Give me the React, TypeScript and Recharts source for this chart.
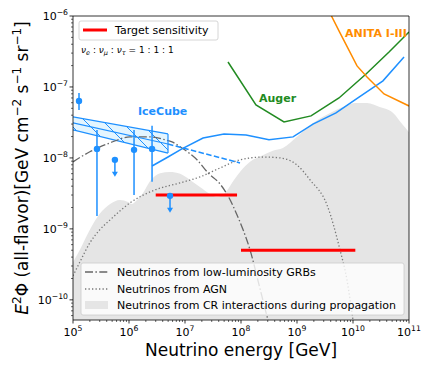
import React from 'react';
import { ComposedChart, Line, Area, Scatter, ErrorBar, XAxis, YAxis, ReferenceLine } from 'recharts';

const BLUE = '#1e90ff';
const GREEN = '#228b22';
const ORANGE = '#ff8c00';
const RED = '#ff0000';
const FONT = '"DejaVu Sans", sans-serif';

const X_MAJOR = [1e5, 1e6, 1e7, 1e8, 1e9, 1e10, 1e11];
const Y_MAJOR = [1e-10, 1e-9, 1e-8, 1e-7, 1e-6];
const X_DOMAIN = [1e5, 1e11];
const Y_DOMAIN = [5.2e-11, 1e-6];

// [energy GeV, E^2 flux]
const crPropagation: [number, number][] = [
  [1e5, 3.4e-10], [1.33e5, 5.1e-10], [2.0e5, 9.7e-10], [3.0e5, 1.63e-9], [4.6e5, 2.25e-9],
  [6.9e5, 2.56e-9], [9.6e5, 2.4e-9], [1.13e6, 2.25e-9], [1.39e6, 2.56e-9], [1.78e6, 3.2e-9],
  [2.37e6, 4.7e-9], [3.6e6, 6.1e-9], [5.4e6, 6.35e-9], [8.2e6, 5.96e-9], [1.23e7, 4.9e-9],
  [1.85e7, 3.9e-9], [2.8e7, 3.1e-9], [3.7e7, 2.82e-9], [5.2e7, 3.2e-9], [6.9e7, 4.45e-9],
  [9.6e7, 6.35e-9], [1.45e8, 8.8e-9], [2.5e8, 1.1e-8], [3.7e8, 1.26e-8], [5.6e8, 1.38e-8],
  [1e9, 1.98e-8], [1.93e9, 3.1e-8], [3.9e9, 4.3e-8], [6.6e9, 5.2e-8], [1.09e10, 5.96e-8],
  [1.78e10, 5.96e-8], [3.0e10, 5.2e-8], [5.2e10, 4.3e-8], [7.8e10, 2.9e-8], [1e11, 2.3e-8],
];

const agn: [number, number][] = [
  [1e5, 2.18e-10], [1.33e5, 3.43e-10], [2.0e5, 6.35e-10], [3.0e5, 9.7e-10], [4.6e5, 1.34e-9],
  [1.04e6, 2.32e-9], [2.9e6, 3.54e-9], [8.2e6, 4.45e-9], [1.85e7, 5.4e-9], [4.2e7, 7.2e-9],
  [9.6e7, 9.4e-9], [2.5e8, 1.03e-8], [5.0e8, 1.0e-8], [1e9, 7.96e-9], [1.71e9, 4.9e-9],
  [3.43e9, 2.18e-9], [5.86e9, 5.06e-10], [7.8e9, 1.91e-10], [1e10, 5.2e-11], [1.13e10, 2.7e-11],
];

const llGrb: [number, number][] = [
  [1e5, 8.8e-9], [2.0e5, 1.22e-8], [4.6e5, 1.63e-8], [1.04e6, 1.98e-8], [2.37e6, 1.98e-8],
  [4.4e6, 1.8e-8], [5.86e6, 1.68e-8], [8.8e6, 1.38e-8], [1.64e7, 9.4e-9], [2.58e7, 6.15e-9],
  [4.22e7, 4.3e-9], [5.86e7, 2.92e-9], [8.5e7, 1.57e-9], [1.09e8, 9.7e-10], [1.45e8, 5.06e-10],
  [2.1e8, 1.63e-10], [3.03e8, 5.2e-11], [3.58e8, 3.2e-11],
];

const iceCubeSens: [number, number][] = [
  [2.58e6, 7.7e-9], [4.97e6, 1.03e-8], [8.8e6, 1.34e-8], [2.1e7, 1.91e-8], [4.97e7, 2.18e-8],
  [1.23e8, 2.11e-8], [3.16e8, 1.8e-8], [8.5e8, 1.98e-8], [1.93e9, 3.0e-8], [4.97e9, 4.3e-8],
  [1.28e10, 7.2e-8], [3.43e10, 1.22e-7], [8.15e10, 2.65e-7],
];

const iceCubeFit: [number, number][] = [[1e5, 3.11e-8], [4.97e6, 1.57e-8]];
const iceCubeFitExtra: [number, number][] = [[4.97e6, 1.57e-8], [9.6e7, 8.5e-9]];
// [energy, lower, upper]
const iceCubeBand: [number, number, number][] = [[1e5, 2.48e-8, 3.78e-8], [4.97e6, 1.17e-8, 2.18e-8]];
const iceCubeBandEdge: [number, number][] = [[4.97e6, 1.17e-8], [4.97e6, 2.18e-8]];

// [energy, flux, low, high]
const iceCubePoints: [number, number, number, number][] = [
  [1.28e5, 6.35e-8, 4.74e-8, 8.2e-8],
  [2.68e5, 1.34e-8, 1.52e-9, 2.48e-8],
  [1.23e6, 1.3e-8, 3.0e-9, 2.48e-8],
  [2.58e6, 1.34e-8, 4.6e-9, 2.83e-8],
];
const iceCubeLimits: [number, number][] = [[5.6e5, 9.4e-9], [5.4e6, 2.92e-9]];

const target1: [number, number][] = [[3e6, 3e-9], [8.5e7, 3e-9]];
const target2: [number, number][] = [[1e8, 5e-10], [1.1e10, 5e-10]];

const auger: [number, number][] = [
  [5.86e7, 2.25e-7], [1.85e8, 5.57e-8], [5.86e8, 3.21e-8], [1.78e9, 3.91e-8], [5.62e9, 7.0e-8],
  [1.71e10, 1.52e-7], [4.4e10, 3.11e-7], [1e11, 5.96e-7],
];
const anita: [number, number][] = [
  [3.58e9, 1.3e-6], [4.05e9, 1.03e-6], [5.86e9, 5.77e-7], [1.18e10, 1.98e-7], [1.78e10, 1.38e-7],
  [3.58e10, 7.96e-8], [1e11, 5.4e-8],
];

const pts = (a: [number, number][]) => a.map(([e, f]) => ({ e, f }));

const minorTicks = (lo: number, hi: number) => {
  const out: number[] = [];
  for (let p = lo; p <= hi; p++) for (let m = 1; m <= 9; m++) out.push(m * Math.pow(10, p));
  return out;
};
const xTicks = minorTicks(5, 10).concat([1e11]);
const yTicks = minorTicks(-11, -7).concat([1e-6]).filter((v) => v >= Y_DOMAIN[0]);

const isMajor = (v: number) => Math.abs(Math.log10(v) - Math.round(Math.log10(v))) < 1e-6;
const expOf = (v: number) => String(Math.round(Math.log10(v))).replace('-', '\u2212');

const XTick = (props: any) => {
  const { x, y, payload } = props;
  const major = isMajor(payload.value);
  return (
    <g>
      <line x1={x} x2={x} y1={y} y2={y + (major ? 3.5 : 2)} stroke="#000" strokeWidth={major ? 0.8 : 0.6} />
      {major && (
        <text x={x} y={y + 16} textAnchor="middle" fontSize={11} fontFamily={FONT} fill="#000">
          10<tspan dy={-5} fontSize={7.7}>{expOf(payload.value)}</tspan>
        </text>
      )}
    </g>
  );
};

const YTick = (props: any) => {
  const { x, y, payload } = props;
  const major = isMajor(payload.value);
  return (
    <g>
      <line x1={x} x2={x - (major ? 3.5 : 2)} y1={y} y2={y} stroke="#000" strokeWidth={major ? 0.8 : 0.6} />
      {major && (
        <text x={x - 5} y={y + 4} textAnchor="end" fontSize={11} fontFamily={FONT} fill="#000">
          10<tspan dy={-5} fontSize={7.7}>{expOf(payload.value)}</tspan>
        </text>
      )}
    </g>
  );
};

const Dot = (p: any) => <circle cx={p.cx} cy={p.cy} r={3.2} fill={BLUE} />;
const LimitMark = (p: any) => {
  const { cx, cy } = p;
  return (
    <g>
      <line x1={cx} y1={cy} x2={cx} y2={cy + 14} stroke={BLUE} strokeWidth={1.5} />
      <path d={`M${cx - 3},${cy + 12} L${cx + 3},${cy + 12} L${cx},${cy + 17} Z`} fill={BLUE} />
      <circle cx={cx} cy={cy} r={3.2} fill={BLUE} />
    </g>
  );
};

export default function App() {
  const crData = crPropagation.map(([e, f]) => ({ e, r: [1e-13, f] }));
  const bandData = iceCubeBand.map(([e, lo, hi]) => ({ e, r: [lo, hi] }));
  const pointData = iceCubePoints.map(([e, f, lo, hi]) => ({ e, f, err: [f - lo, hi - f] }));

  return (
    <div style={{ position: 'absolute', left: 0, top: 0, width: 432, height: 371, background: '#fff', fontFamily: FONT }}>
      <ComposedChart width={432} height={371} margin={{ top: 16, right: 23, bottom: 0, left: 0 }}>
        <defs>
          <pattern id="hatch" patternUnits="userSpaceOnUse" width={18} height={18}>
            <rect width={18} height={18} fill="#e3f5ff" />
            <path d="M0,0 L18,18 M-4,14 L4,22 M14,-4 L22,4" stroke={BLUE} strokeWidth={1} />
          </pattern>
        </defs>
        <XAxis
          dataKey="e" type="number" scale="log" domain={X_DOMAIN} allowDataOverflow
          ticks={xTicks} interval={0} tick={<XTick />} tickLine={false} tickSize={0} tickMargin={0}
          height={51} axisLine={{ stroke: '#000', strokeWidth: 0.8 }}
        />
        <YAxis
          dataKey="f" type="number" scale="log" domain={Y_DOMAIN} allowDataOverflow
          ticks={yTicks} interval={0} tick={<YTick />} tickLine={false} tickSize={0} tickMargin={0}
          width={73} axisLine={{ stroke: '#000', strokeWidth: 0.8 }}
        />
        <Area data={crData} dataKey="r" type="monotone" fill="#e5e5e5" fillOpacity={1} stroke="none" isAnimationActive={false} />
        <Area data={bandData} dataKey="r" type="linear" fill="url(#hatch)" fillOpacity={1} stroke={BLUE} strokeWidth={1.2} isAnimationActive={false} />
        <Line data={pts(agn)} dataKey="f" type="monotone" stroke="#777" strokeWidth={1.3} strokeDasharray="1.3 2.2" dot={false} activeDot={false} isAnimationActive={false} />
        <Line data={pts(llGrb)} dataKey="f" type="monotone" stroke="#666" strokeWidth={1.3} strokeDasharray="8 2.4 1.5 2.4" dot={false} activeDot={false} isAnimationActive={false} />
        <Line data={pts(iceCubeBandEdge)} dataKey="f" stroke={BLUE} strokeWidth={1.2} dot={false} activeDot={false} isAnimationActive={false} />
        <Line data={pts(iceCubeFit)} dataKey="f" stroke={BLUE} strokeWidth={1.2} dot={false} activeDot={false} isAnimationActive={false} />
        <Line data={pts(iceCubeFitExtra)} dataKey="f" stroke={BLUE} strokeWidth={1.5} strokeDasharray="5.5 2.4" dot={false} activeDot={false} isAnimationActive={false} />
        <Line data={pts(iceCubeSens)} dataKey="f" stroke={BLUE} strokeWidth={1.5} dot={false} activeDot={false} isAnimationActive={false} />
        <Line data={pts(auger)} dataKey="f" stroke={GREEN} strokeWidth={1.5} dot={false} activeDot={false} isAnimationActive={false} />
        <Line data={pts(anita)} dataKey="f" stroke={ORANGE} strokeWidth={1.5} dot={false} activeDot={false} isAnimationActive={false} />
        <Line data={pts(target1)} dataKey="f" stroke={RED} strokeWidth={3} dot={false} activeDot={false} isAnimationActive={false} />
        <Line data={pts(target2)} dataKey="f" stroke={RED} strokeWidth={3} dot={false} activeDot={false} isAnimationActive={false} />
        <Scatter data={pointData} dataKey="f" shape={<Dot />} isAnimationActive={false}>
          <ErrorBar dataKey="err" direction="y" width={0} stroke={BLUE} strokeWidth={1.5} />
        </Scatter>
        <Scatter data={pts(iceCubeLimits)} dataKey="f" shape={<LimitMark />} isAnimationActive={false} />
        <ReferenceLine y={1e-6} stroke="#000" strokeWidth={0.8} />
        <ReferenceLine x={1e11} stroke="#000" strokeWidth={0.8} />
      </ComposedChart>

      <svg width={432} height={371} style={{ position: 'absolute', left: 0, top: 0, pointerEvents: 'none' }} fontFamily={FONT}>
        <defs>
          <clipPath id="plotClip"><rect x={73} y={16} width={336} height={304} /></clipPath>
        </defs>
        {/* annotations */}
        <text x={138} y={115} fontSize={11} fontWeight="bold" fill={BLUE}>IceCube</text>
        <text x={259} y={102} fontSize={11} fontWeight="bold" fill={GREEN}>Auger</text>
        <g clipPath="url(#plotClip)">
          <text x={345} y={37} fontSize={11} fontWeight="bold" fill={ORANGE}>ANITA I-III</text>
        </g>

        {/* upper legend */}
        <rect x={79} y={21} width={139} height={19} rx={2} fill="#fff" fillOpacity={0.8} stroke="#ccc" strokeWidth={0.8} />
        <line x1={83} x2={107} y1={30} y2={30} stroke={RED} strokeWidth={3} />
        <text x={115} y={34} fontSize={11} fill="#000">Target sensitivity</text>
        <text x={81} y={53} fontSize={9} fill="#000">
          <tspan fontStyle="italic">ν</tspan><tspan fontSize={6.5} dy={2} fontStyle="italic">e</tspan>
          <tspan dy={-2}> : </tspan><tspan fontStyle="italic">ν</tspan><tspan fontSize={6.5} dy={2} fontStyle="italic">μ</tspan>
          <tspan dy={-2}> : </tspan><tspan fontStyle="italic">ν</tspan><tspan fontSize={6.5} dy={2} fontStyle="italic">τ</tspan>
          <tspan dy={-2}> = 1 : 1 : 1</tspan>
        </text>

        {/* lower legend */}
        <rect x={81} y={263} width={323} height={52} rx={2} fill="#fff" fillOpacity={0.8} stroke="#ccc" strokeWidth={0.8} />
        <line x1={85} x2={108} y1={272} y2={272} stroke="#666" strokeWidth={1.3} strokeDasharray="8 2.4 1.5 2.4" />
        <text x={117} y={276} fontSize={11} fill="#000">Neutrinos from low-luminosity GRBs</text>
        <line x1={85} x2={108} y1={289} y2={289} stroke="#777" strokeWidth={1.3} strokeDasharray="1.3 2.2" />
        <text x={117} y={293} fontSize={11} fill="#000">Neutrinos from AGN</text>
        <rect x={85} y={301} width={23} height={8} fill="#e5e5e5" />
        <text x={117} y={309} fontSize={11} fill="#000">Neutrinos from CR interactions during propagation</text>

        {/* axis labels */}
        <text x={241} y={356} fontSize={17} textAnchor="middle" fill="#000">Neutrino energy [GeV]</text>
        <text transform="translate(28,168) rotate(-90)" fontSize={17} textAnchor="middle" fill="#000">
          <tspan fontStyle="italic">E</tspan><tspan fontSize={12} dy={-7}>2</tspan>
          <tspan dy={7}>Φ (all-flavor)[GeV cm</tspan><tspan fontSize={12} dy={-7}>−2</tspan>
          <tspan dy={7}> s</tspan><tspan fontSize={12} dy={-7}>−1</tspan>
          <tspan dy={7}> sr</tspan><tspan fontSize={12} dy={-7}>−1</tspan>
          <tspan dy={7}>]</tspan>
        </text>
      </svg>
    </div>
  );
}
